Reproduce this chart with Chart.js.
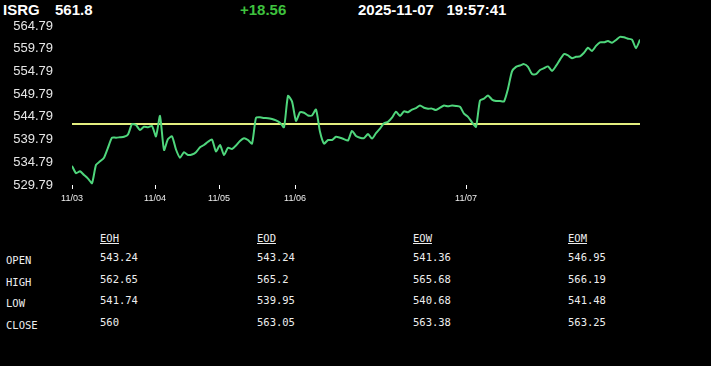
<!DOCTYPE html>
<html>
<head>
<meta charset="utf-8">
<script src="https://cdn.jsdelivr.net/npm/chart.js@4"></script>
<style>
  html, body { margin: 0; padding: 0; background: #000; }
  body { width: 711px; height: 366px; position: relative; overflow: hidden; }
  .hdr { position: absolute; top: 1px; font: bold 15px "Liberation Sans", Arial, sans-serif; color: #fff; white-space: pre; }
  #wrap { position: absolute; left: 0; top: 0; width: 711px; height: 216px; }
  .cell { position: absolute; font: 10.5px "DejaVu Sans Mono", monospace; color: #eee; white-space: pre; }
  .cell.head { text-decoration: underline; }
</style>
</head>
<body>
<div class="hdr" style="left:3px">ISRG</div>
<div class="hdr" style="left:55px" id="lastPrice"></div>
<div class="hdr" style="left:240px;color:#3ec23e" id="change"></div>
<div class="hdr" style="left:358px" id="stamp"></div>
<div id="wrap"><canvas id="grafico" width="711" height="216"></canvas></div>
<div id="tabla"></div>
<script>
/* cabecera */
var ticker = 'ISRG';
var lastPrice = '561.8';
var change = '+18.56';
var stamp = '2025-11-07   19:57:41';

/* precio intradía, un punto por intervalo */
var priceValues = [
  534.0, 532.4, 532.8, 532.0, 531.2, 530.2, 534.2, 535.0, 535.8, 538.0,
  540.2, 540.2, 540.3, 540.4, 540.9, 543.2, 543.0, 541.9, 542.6, 542.5,
  542.8, 540.5, 545.0, 537.5, 539.9, 540.5, 537.6, 535.8, 537.0, 536.4,
  536.5, 537.0, 538.1, 538.6, 539.3, 539.8, 537.2, 538.6, 536.4, 538.0,
  537.7, 538.5, 539.5, 540.1, 539.7, 538.9, 544.6, 544.7, 544.55, 544.5,
  544.3, 544.0, 543.5, 542.5, 549.4, 548.2, 543.9, 545.8, 545.7, 545.1,
  545.1, 546.4, 541.5, 538.9, 539.7, 539.7, 540.4, 540.2, 539.9, 539.6,
  541.7, 540.6, 540.2, 540.1, 541.0, 540.0, 541.2, 542.2, 543.4, 543.7,
  544.6, 545.9, 545.0, 546.0, 545.8, 546.4, 546.7, 547.3, 546.8, 546.6,
  546.6, 546.3, 546.8, 547.3, 547.1, 547.3, 547.2, 547.0, 545.5, 544.8,
  543.6, 542.6, 548.4, 548.8, 549.5, 548.6, 548.3, 548.3, 548.2, 551.0,
  554.8, 555.8, 556.1, 556.4, 555.8, 554.2, 554.2, 555.1, 555.5, 555.9,
  554.9, 556.0, 557.4, 558.6, 558.3, 557.7, 558.0, 558.1, 558.9, 560.0,
  559.3, 560.4, 561.2, 561.2, 561.5, 561.1, 561.7, 562.4, 562.3, 562.0,
  561.8, 559.9, 561.8
];

/* línea de referencia: apertura */
var openPrice = 543.24;

/* ejes */
var dayTickIndex = [0, 20.75, 36.75, 55.75, 98.5];
var dayTickLabels = ['11/03', '11/04', '11/05', '11/06', '11/07'];
var yTickValues = [529.79, 534.79, 539.79, 544.79, 549.79, 554.79, 559.79, 564.79];

/* tabla */
var tableColumns = ['EOH', 'EOD', 'EOW', 'EOM'];
var tableRows = ['OPEN', 'HIGH', 'LOW', 'CLOSE'];
var openVals = ['543.24', '543.24', '541.36', '546.95'];
var highVals = ['562.65', '565.2', '565.68', '566.19'];
var lowVals = ['541.74', '539.95', '540.68', '541.48'];
var closeVals = ['560', '563.05', '563.38', '563.25'];

document.getElementById('lastPrice').textContent = lastPrice;
document.getElementById('change').textContent = change;
document.getElementById('stamp').textContent = stamp;

function crearGrafico() {
    var puntos = priceValues.map(function (v, i) { return { x: i, y: v }; });
    var ultimo = priceValues.length - 1;
    new Chart(document.getElementById('grafico'), {
        type: 'line',
        data: {
            datasets: [{
                data: puntos,
                borderColor: '#4fd67c',
                borderWidth: 2,
                pointRadius: 0,
                tension: 0.2
            }, {
                data: [{ x: 0, y: openPrice }, { x: ultimo, y: openPrice }],
                borderColor: '#e3ee7f',
                borderWidth: 2,
                pointRadius: 0
            }]
        },
        options: {
            responsive: false,
            animation: false,
            layout: { padding: { left: 0, top: 26, right: 71, bottom: 0 } },
            plugins: { legend: { display: false }, tooltip: { enabled: false } },
            scales: {
                x: {
                    type: 'linear',
                    min: 0,
                    max: ultimo,
                    afterBuildTicks: function (s) {
                        s.ticks = dayTickIndex.map(function (v) { return { value: v }; });
                    },
                    afterFit: function (s) { s.height = 31; },
                    ticks: {
                        autoSkip: false,
                        maxRotation: 0,
                        padding: 4,
                        color: '#eee',
                        font: { family: 'Liberation Sans, Arial', size: 9 },
                        callback: function (v) {
                            var k = dayTickIndex.indexOf(v);
                            return k >= 0 ? dayTickLabels[k] : '';
                        }
                    },
                    grid: { drawOnChartArea: false, drawTicks: true, tickLength: 4, color: '#fff' },
                    border: { display: false }
                },
                y: {
                    min: yTickValues[0],
                    max: yTickValues[yTickValues.length - 1],
                    afterBuildTicks: function (s) {
                        s.ticks = yTickValues.map(function (v) { return { value: v }; });
                    },
                    afterFit: function (s) { s.width = 72; },
                    ticks: {
                        padding: 11,
                        color: '#e6e6e6',
                        font: { family: 'Liberation Sans, Arial', size: 13 },
                        callback: function (v) { return v.toFixed(2); }
                    },
                    grid: { display: false },
                    border: { display: false }
                }
            }
        }
    });
}

function crearTabla() {
    var tabla = document.getElementById('tabla');
    var colX = [100, 257, 413, 568];
    var valores = [openVals, highVals, lowVals, closeVals];
    function celda(txt, x, y, cls) {
        var d = document.createElement('div');
        d.className = 'cell' + (cls ? ' ' + cls : '');
        d.style.left = x + 'px';
        d.style.top = y + 'px';
        d.textContent = txt;
        tabla.appendChild(d);
    }
    tableColumns.forEach(function (c, j) { celda(c, colX[j], 232, 'head'); });
    tableRows.forEach(function (r, i) {
        celda(r, 6, 254 + i * 21.7);
        valores[i].forEach(function (v, j) { celda(v, colX[j], 251 + i * 21.7); });
    });
}

crearGrafico();
crearTabla();
</script>
</body>
</html>
